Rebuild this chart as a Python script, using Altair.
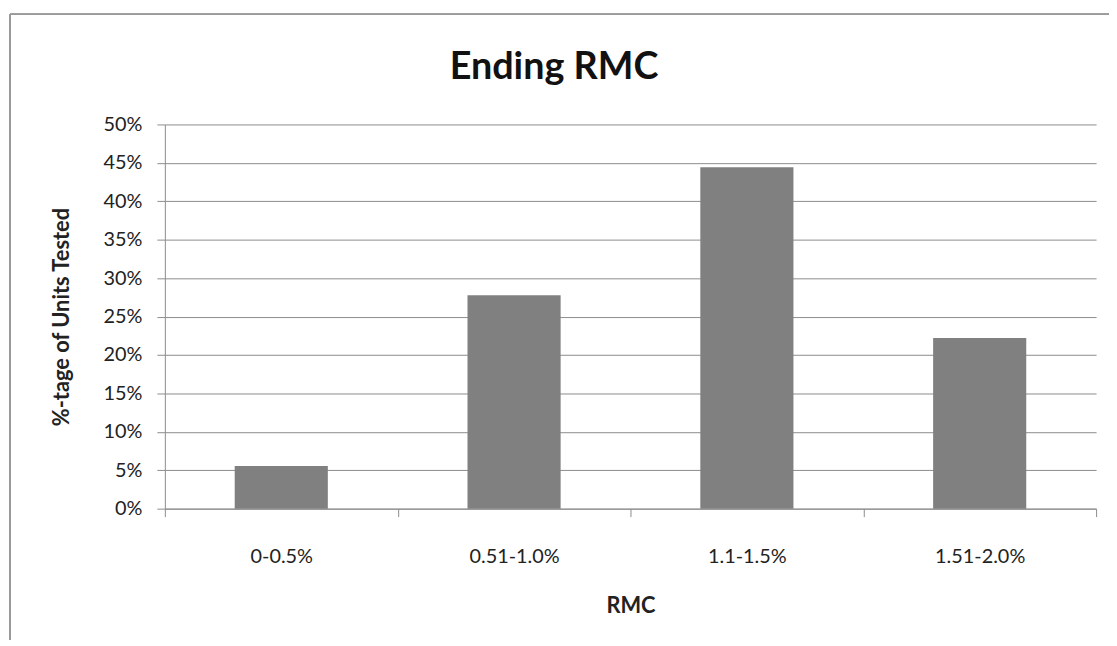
import altair as alt
import pandas as pd

categories = ["0-0.5%", "0.51-1.0%", "1.1-1.5%", "1.51-2.0%"]
values = [0.0556, 0.2778, 0.4444, 0.2222]
y_ticks = [0, 0.05, 0.10, 0.15, 0.20, 0.25, 0.30, 0.35, 0.40, 0.45, 0.50]
chart_title = "Ending RMC"

df = pd.DataFrame({"RMC": categories, "pct": values})

W, H = 938, 387
FONT = "Lato"
GRID = "#8c8c8c"

bars = alt.Chart(df).mark_bar(color="#808080", width=alt.RelativeBandSize(0.4)).encode(
    x=alt.X("RMC:N", sort=categories,
            scale=alt.Scale(paddingInner=0, paddingOuter=0),
            axis=alt.Axis(title="RMC", labelAngle=0, tickBand="extent",
                          tickSize=8, labelPadding=30, titlePadding=30,
                          labelFontSize=20, titleFontSize=22,
                          labelFont=FONT, titleFont=FONT, titleFontWeight="bold",
                          labelColor="#222", titleColor="#222",
                          domainColor=GRID, tickColor=GRID, grid=False)),
    y=alt.Y("pct:Q", scale=alt.Scale(domain=[0, 0.5], nice=False),
            axis=alt.Axis(title="%-tage of Units Tested", format=".0%",
                          values=y_ticks, tickSize=8, labelPadding=15,
                          titlePadding=30,
                          labelFontSize=20, titleFontSize=22,
                          labelFont=FONT, titleFont=FONT, titleFontWeight="bold",
                          labelColor="#222", titleColor="#222",
                          domainColor=GRID, tickColor=GRID,
                          grid=True, gridColor=GRID, gridWidth=1)),
)

border_left = alt.Chart(df).mark_rule(color="#9a9a9a", strokeWidth=1.5).encode(
    x=alt.value(-156), y=alt.value(-111), y2=alt.value(H + 200)
)
border_top = alt.Chart(df).mark_rule(color="#9a9a9a", strokeWidth=1.5).encode(
    x=alt.value(-156), x2=alt.value(W + 200), y=alt.value(-111)
)

title_df = pd.DataFrame({"t": [chart_title]})
title_text = alt.Chart(title_df).mark_text(
    font=FONT, fontSize=38, fontWeight="bold", color="#111",
    align="center", baseline="alphabetic"
).encode(text="t:N", x=alt.value(392), y=alt.value(-46))

chart = alt.layer(bars, border_left, border_top, title_text).properties(
    width=W, height=H,
    autosize=alt.AutoSizeParams(type="none"),
    padding={"left": 158, "top": 115, "right": 13, "bottom": 130},
).configure_view(stroke=None)

chart.save("out.html", embed_options={"renderer": "svg", "actions": False})
